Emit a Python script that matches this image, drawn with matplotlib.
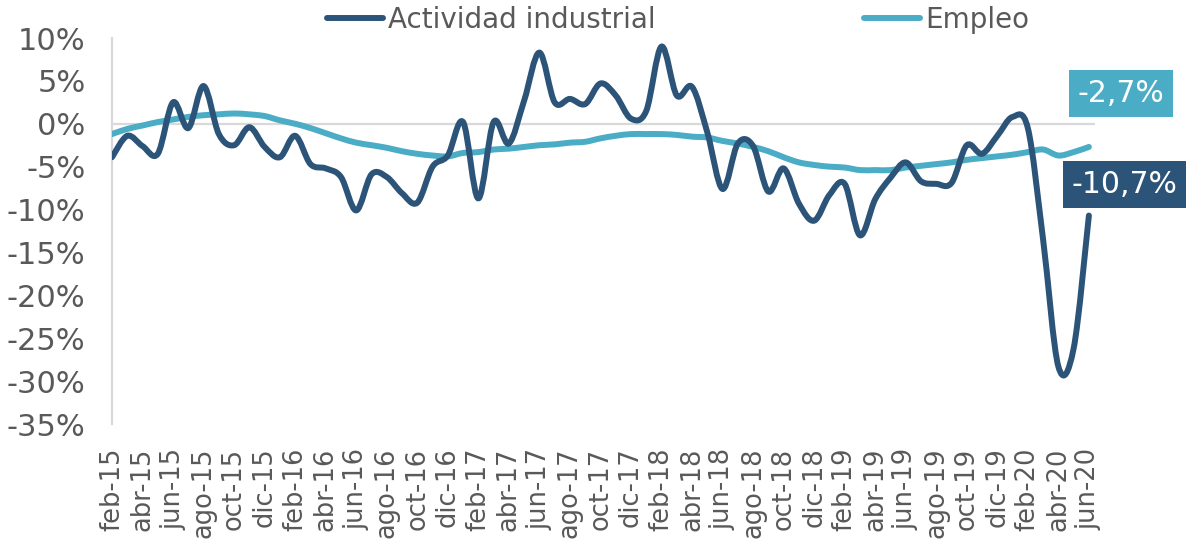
import numpy as np
import matplotlib
matplotlib.use('Agg')
import matplotlib.pyplot as plt
from matplotlib.path import Path
from matplotlib.patches import PathPatch
from matplotlib.lines import Line2D

# monthly series feb-15 .. jun-20 (% annual variation)
meses = ['ene', 'feb', 'mar', 'abr', 'may', 'jun', 'jul', 'ago', 'sep', 'oct', 'nov', 'dic']
fechas = []
for k in range(65):
    m = (1 + k) % 12
    a = 15 + (1 + k) // 12
    fechas.append(meses[m] + '-' + str(a))

industrial = [-3.9, -1.4, -2.6, -3.5, 2.5, -0.5, 4.4, -1.2, -2.5, -0.4,
              -2.7, -3.9, -1.4, -4.7, -5.2, -6.2, -10.1, -5.9, -6.2, -8.1,
              -9.2, -5.0, -3.7, 0.2, -8.7, 0.2, -2.3, 2.7, 8.3, 2.5,
              2.9, 2.3, 4.7, 3.3, 0.6, 1.5, 9.0, 3.3, 4.3, -1.0,
              -7.6, -2.3, -2.6, -7.9, -5.2, -9.3, -11.3, -8.3, -7.0, -13.0,
              -8.8, -6.3, -4.5, -6.7, -7.0, -6.9, -2.5, -3.5, -1.4, 0.8,
              -0.5, -13.5, -28.3, -26.2, -10.7]

empleo = [-1.2, -0.6, -0.2, 0.2, 0.5, 0.8, 1.0, 1.1, 1.2, 1.1,
          0.9, 0.4, 0.0, -0.5, -1.1, -1.7, -2.2, -2.5, -2.8, -3.2,
          -3.5, -3.7, -3.8, -3.4, -3.3, -3.0, -2.9, -2.7, -2.5, -2.4,
          -2.2, -2.1, -1.7, -1.4, -1.2, -1.2, -1.2, -1.3, -1.5, -1.6,
          -2.0, -2.3, -2.7, -3.2, -3.9, -4.5, -4.8, -5.0, -5.1, -5.4,
          -5.4, -5.4, -5.1, -4.9, -4.7, -4.5, -4.2, -4.0, -3.8, -3.6,
          -3.3, -3.0, -3.7, -3.3, -2.7]

c_ind = '#2C5479'
c_emp = '#4BACC6'
gris = '#595959'


def smooth_path(x, y):
    # excel-like smoothed line: bezier through every data point
    x = np.asarray(x, float)
    y = np.asarray(y, float)
    verts = [(x[0], y[0])]
    codes = [Path.MOVETO]
    n = len(x)
    for i in range(n - 1):
        x0, y0 = (x[i - 1], y[i - 1]) if i > 0 else (x[i], y[i])
        x3, y3 = (x[i + 2], y[i + 2]) if i + 2 < n else (x[i + 1], y[i + 1])
        c1 = (x[i] + (x[i + 1] - x0) / 6, y[i] + (y[i + 1] - y0) / 6)
        c2 = (x[i + 1] - (x3 - x[i]) / 6, y[i + 1] - (y3 - y[i]) / 6)
        verts += [c1, c2, (x[i + 1], y[i + 1])]
        codes += [Path.CURVE4] * 3
    return Path(verts, codes)


fig = plt.figure(figsize=(11.86, 5.4), dpi=100)
ax = fig.add_axes([112 / 1186, 116 / 540, 983 / 1186, 386 / 540])

xs = np.arange(len(fechas))
for serie, col in [(empleo, c_emp), (industrial, c_ind)]:
    p = PathPatch(smooth_path(xs, serie), facecolor='none', edgecolor=col,
                  lw=4.3, capstyle='round', joinstyle='round', zorder=3)
    ax.add_patch(p)

ax.axhline(0, color='#D9D9D9', lw=1.6, zorder=1)
ax.set_xlim(0, 64.4)
ax.set_ylim(-35, 10)

ax.set_yticks(np.arange(-35, 11, 5))
ax.set_yticklabels([f'{v}%' for v in np.arange(-35, 11, 5)])
ax.set_xticks(xs[::2])
ax.set_xticklabels(fechas[::2], rotation=90)

ax.tick_params(axis='y', length=0, pad=19, labelsize=22, labelcolor=gris)
ax.tick_params(axis='x', length=0, pad=17, labelsize=18.5, labelcolor=gris)
for s in ['top', 'right', 'bottom']:
    ax.spines[s].set_visible(False)
ax.spines['left'].set_color('#D9D9D9')
ax.spines['left'].set_linewidth(1.6)

handles = [Line2D([], [], color=c_ind, lw=4.3, solid_capstyle='round'),
           Line2D([], [], color=c_emp, lw=4.3, solid_capstyle='round')]
fig.legend(handles, ['Actividad industrial', 'Empleo'], loc='center',
           bbox_to_anchor=(0.572, 0.963), ncol=2, frameon=False, fontsize=20,
           handlelength=2.0, handletextpad=0.2, columnspacing=7.5,
           labelcolor=gris)

ax.annotate(f'{empleo[-1]:.1f}%'.replace('.', ','), xy=(xs[-1], empleo[-1]),
            xytext=(32, 53), textcoords='offset pixels', ha='center', va='center',
            fontsize=21.5, color='white', annotation_clip=False,
            bbox=dict(boxstyle='square,pad=0.3', fc=c_emp, ec='none'))
ax.annotate(f'{industrial[-1]:.1f}%'.replace('.', ','), xy=(xs[-1], industrial[-1]),
            xytext=(36, 31), textcoords='offset pixels', ha='center', va='center',
            fontsize=21.5, color='white', annotation_clip=False,
            bbox=dict(boxstyle='square,pad=0.3', fc=c_ind, ec='none'))

plt.savefig('out.png', dpi=100)
